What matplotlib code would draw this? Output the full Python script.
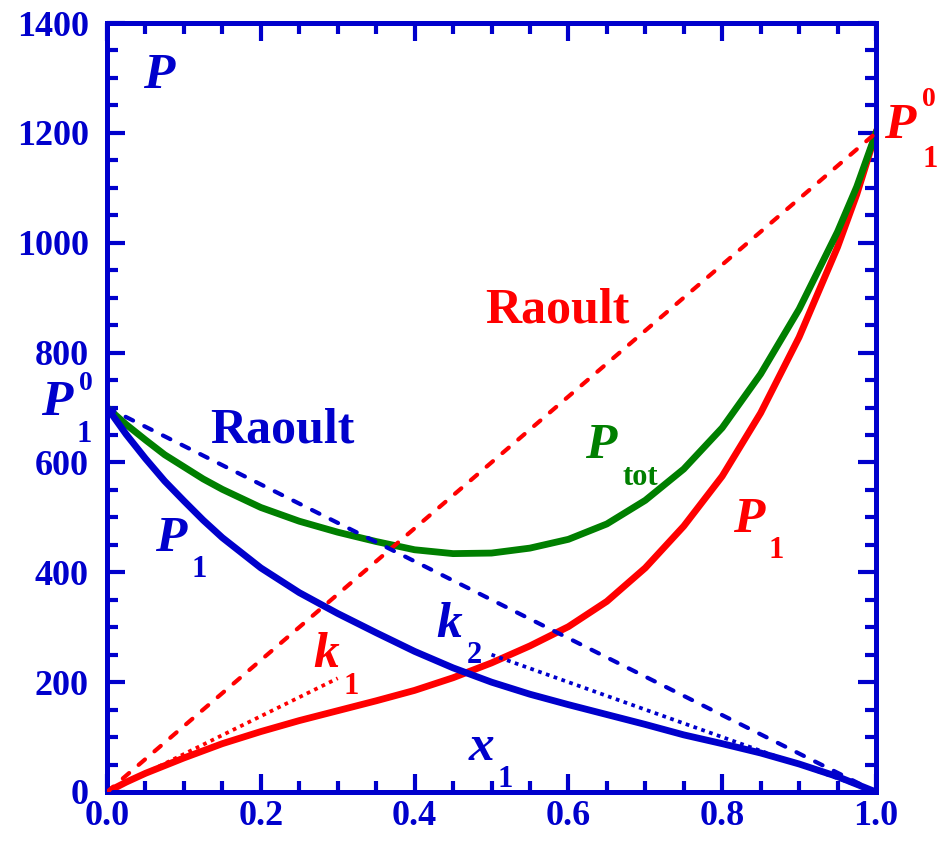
import matplotlib
matplotlib.use("Agg")
import matplotlib.pyplot as plt
from matplotlib.ticker import MultipleLocator, FormatStrFormatter

# ---- data ----
x1 = [0.000, 0.025, 0.05, 0.075, 0.10, 0.125, 0.15, 0.20, 0.25, 0.30, 0.35, 0.40,
      0.45, 0.50, 0.55, 0.60, 0.65, 0.70, 0.75, 0.80, 0.85, 0.90, 0.95, 0.975, 1.00]
p_red = [0, 18, 34, 48, 62, 75, 88, 110, 130, 148, 166, 185,
         208, 235, 266, 301, 347, 408, 484, 575, 690, 828, 992, 1088, 1200]
p_blue = [700, 651, 607, 566, 530, 495, 463, 408, 363, 325, 290, 256,
          226, 200, 178, 159, 141, 123, 104, 88, 71, 51, 28, 14, 0]
p_tot = [r + b for r, b in zip(p_red, p_blue)]

raoult_red_x = [0.0, 1.0]
raoult_red_y = [0, 1200]
raoult_blue_x = [0.0, 1.0]
raoult_blue_y = [700, 0]
henry1_x = [0.0, 0.3]
henry1_y = [0, 207]
henry2_x = [0.5, 1.0]
henry2_y = [250, 0]

BLUE = "#0000CC"
RED = "#FF0000"
GREEN = "#007F00"
SERIF = ["Liberation Serif", "DejaVu Serif"]

plt.rcParams["font.family"] = SERIF
plt.rcParams["font.weight"] = "bold"
plt.rcParams["font.size"] = 26

fig = plt.figure(figsize=(9.42, 8.44), dpi=100)
ax = fig.add_axes([107/942, 52/844, 769/942, 769/844])

lw = 4.9
ax.plot(x1, p_red, color=RED, lw=lw, solid_joinstyle="round", zorder=2)
ax.plot(x1, p_blue, color=BLUE, lw=lw, solid_joinstyle="round", zorder=3)
ax.plot(x1, p_tot, color=GREEN, lw=lw, solid_joinstyle="round", zorder=2.5)

dash = (0, (2.0, 3.0))
ax.plot(raoult_red_x, raoult_red_y, color=RED, lw=3.0, ls=dash,
        dash_capstyle="round", zorder=4)
ax.plot(raoult_blue_x, raoult_blue_y, color=BLUE, lw=3.0, ls=dash,
        dash_capstyle="round", zorder=4)
dot = (0, (1.0, 1.2))
ax.plot(henry1_x, henry1_y, color=RED, lw=2.7, ls=dot, zorder=4)
ax.plot(henry2_x, henry2_y, color=BLUE, lw=2.7, ls=dot, zorder=4)

ax.set_xlim(0, 1)
ax.set_ylim(0, 1400)
ax.xaxis.set_major_locator(MultipleLocator(0.2))
ax.xaxis.set_minor_locator(MultipleLocator(0.05))
ax.yaxis.set_major_locator(MultipleLocator(200))
ax.yaxis.set_minor_locator(MultipleLocator(50))
ax.xaxis.set_major_formatter(FormatStrFormatter("%.1f"))
ax.yaxis.set_major_formatter(FormatStrFormatter("%d"))

for s in ax.spines.values():
    s.set_color(BLUE)
    s.set_linewidth(3.6)
ax.tick_params(which="both", direction="in", top=True, right=True,
               color=BLUE, width=3.0, labelcolor=BLUE, labelsize=26)
ax.tick_params(which="major", length=13)
ax.tick_params(which="minor", length=8)
ax.tick_params(axis="x", which="major", pad=6)
ax.tick_params(axis="y", which="major", pad=13)

BIG = 37
SUB = 22

def txt(x, y, s, color, size, italic=False):
    ax.text(x, y, s, color=color, fontsize=size, family=SERIF,
            fontweight="bold", style="italic" if italic else "normal",
            ha="left", va="baseline", clip_on=False, zorder=6)

# labels
txt(0.047, 1282, "P", BLUE, BIG, True)
# left P0_1
txt(-0.086, 687, "P", BLUE, BIG, True)
txt(-0.036, 732, "0", BLUE, 20)
txt(-0.040, 638, "1", BLUE, SUB)
txt(0.134, 636, "Raoult", BLUE, 36)
txt(0.4915, 854, "Raoult", RED, 36)
txt(0.622, 608, "P", GREEN, BIG, True)
txt(0.671, 559, "tot", GREEN, SUB)
txt(0.063, 439, "P", BLUE, BIG, True)
txt(0.1105, 392, "1", BLUE, SUB)
txt(0.268, 228, "k", RED, BIG, True)
txt(0.307, 178, "1", RED, SUB)
txt(0.428, 282, "k", BLUE, BIG, True)
txt(0.468, 235, "2", BLUE, SUB)
txt(0.470, 58, "x", BLUE, BIG, True)
txt(0.508, 9, "1", BLUE, SUB)
txt(0.814, 474, "P", RED, BIG, True)
txt(0.860, 426, "1", RED, SUB)
# right P0_1
txt(1.011, 1191, "P", RED, BIG, True)
txt(1.060, 1248, "0", RED, 20)
txt(1.060, 1138, "1", RED, SUB)

fig.savefig("out.png", dpi=100)
